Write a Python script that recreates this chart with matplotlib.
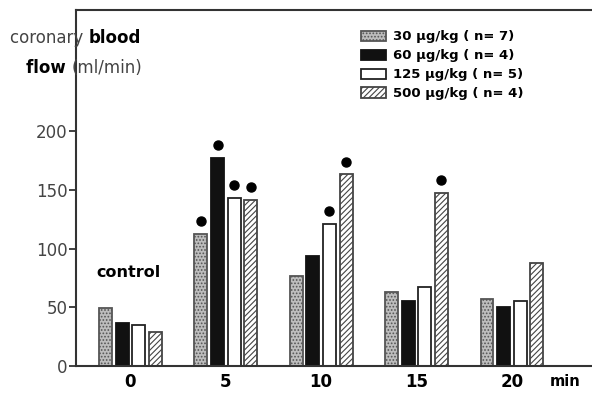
import matplotlib
matplotlib.use("Agg")
import matplotlib.pyplot as plt
import numpy as np

plt.rcParams['hatch.linewidth'] = 0.8

times = ["0", "5", "10", "15", "20"]
series_labels = ["30 µg/kg ( n= 7)", "60 µg/kg ( n= 4)", "125 µg/kg ( n= 5)", "500 µg/kg ( n= 4)"]
v30 = [49, 112, 77, 63, 57]
v60 = [37, 177, 94, 55, 50]
v125 = [35, 143, 121, 67, 55]
v500 = [29, 141, 163, 147, 88]
sig30 = [0, 1, 0, 0, 0]
sig60 = [0, 1, 0, 0, 0]
sig125 = [0, 1, 1, 0, 0]
sig500 = [0, 1, 1, 1, 0]
yticks = [0, 50, 100, 150, 200]

values = [v30, v60, v125, v500]
sigs = [sig30, sig60, sig125, sig500]
styles = [
    dict(facecolor="#bdbdbd", edgecolor="#555555", hatch="....."),
    dict(facecolor="#111111", edgecolor="#111111", hatch=None),
    dict(facecolor="white", edgecolor="#222222", hatch=None),
    dict(facecolor="white", edgecolor="#444444", hatch="//////"),
]

fig = plt.figure(figsize=(5.92, 3.93), dpi=100)
ax = fig.add_axes([76/592, 1-366/393, 1-76/592, (366-10)/393])

x = np.arange(len(times))
step = 0.174
width = 0.136
handles = []
for i, (vals, sg, st) in enumerate(zip(values, sigs, styles)):
    xs = x + (i - 1.5) * step
    bars = ax.bar(xs, vals, width, linewidth=1.3, label=series_labels[i], **st)
    handles.append(bars)
    sx = [xi for xi, s in zip(xs, sg) if s]
    sy = [v for v, s in zip(vals, sg) if s]
    ax.plot(sx, [yy + 11 for yy in sy], linestyle="none", marker="o", markersize=6.5,
            color="black")

ax.set_xlim(-0.571, 4.84)
ax.set_ylim(0, 303)
ax.set_yticks(yticks)
ax.set_yticklabels([str(t) for t in yticks], fontsize=12, color="#444444")
ax.set_xticks(x)
ax.set_xticklabels(times, fontsize=12, fontweight="bold")
ax.tick_params(axis="x", length=0, pad=5)
ax.tick_params(axis="y", length=5, width=1.3, color="#333333", direction="out", pad=1)
for sp in ["left", "bottom", "top"]:
    ax.spines[sp].set_linewidth(1.5)
    ax.spines[sp].set_color("#333333")
ax.spines["right"].set_visible(False)

fig.text(565/592, 1-381/393, "min", fontsize=10.5, fontweight="bold", ha="center", va="center")

renderer = fig.canvas.get_renderer()
def pair(x0, y0, s1, kw1, s2, kw2):
    t1 = fig.text(x0, y0, s1, ha="left", va="center", **kw1)
    bb = t1.get_window_extent(renderer=renderer)
    fig.text(bb.x1 / fig.bbox.width, y0, s2, ha="left", va="center", **kw2)

pair(10/592, 1-38/393, "coronary ", dict(fontsize=12, color="#444444"),
     "blood", dict(fontsize=12, fontweight="bold", color="black"))
pair(26/592, 1-68/393, "flow ", dict(fontsize=12, fontweight="bold", color="black"),
     "(ml/min)", dict(fontsize=12, color="#444444"))
ax.text(-0.36, 80, "control", fontsize=11.5, fontweight="bold", ha="left", va="center")

leg = fig.legend(handles=handles, loc="upper left", bbox_to_anchor=(356/592, 1-25/393), frameon=False,
                 handlelength=1.9, handleheight=0.8, handletextpad=0.5, labelspacing=0.45,
                 prop={"size": 9.5, "weight": "bold"}, borderaxespad=0)

fig.savefig("out.png", dpi=100)
